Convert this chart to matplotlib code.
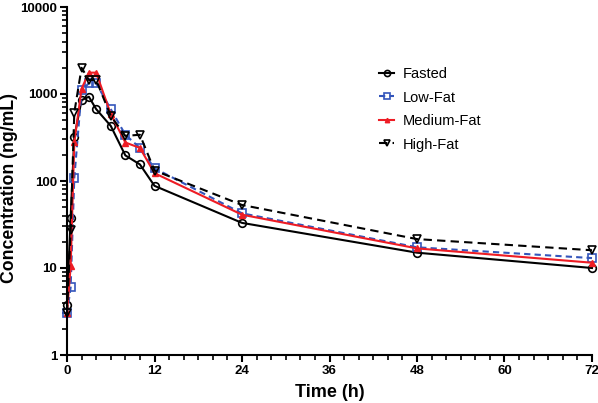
import matplotlib
matplotlib.use("Agg")
import matplotlib.pyplot as plt
from matplotlib.ticker import FixedLocator, LogLocator, NullFormatter

plt.rcParams['font.family'] = ['Liberation Sans', 'DejaVu Sans']

time_h = [0, 0.5, 1, 2, 3, 4, 6, 8, 10, 12, 24, 48, 72]
fasted = [3.8, 38, 320, 850, 930, 670, 430, 197, 155, 88, 33, 15, 10]
low_fat = [3, 6, 108, 1100, 1330, 1330, 670, 340, 240, 140, 42.5, 17.3, 13]
medium_fat = [3, 10.5, 280, 1150, 1760, 1760, 590, 277, 240, 123, 41, 16.8, 11.5]
high_fat = [3, 27, 610, 2000, 1450, 1450, 560, 330, 340, 132, 53, 21.5, 16]

x_ticks = [0, 12, 24, 36, 48, 60, 72]
y_ticks = [1, 10, 100, 1000, 10000]
y_ticklabels = ["1", "10", "100", "1000", "10000"]

fig = plt.figure(figsize=(5.98, 4.03), dpi=100)
ax = fig.add_axes([67/598, 1-355/403, (592-67)/598, (355-7)/403])

ax.plot(time_h, fasted, color='black', lw=1.5, ls='-', marker='o', ms=5.5,
        mfc='none', mec='black', mew=1.2, label='Fasted', clip_on=False)
ax.plot(time_h, low_fat, color='#3355bb', lw=1.5, ls=(0, (3, 2)), marker='s', ms=5.5,
        mfc='none', mec='#3355bb', mew=1.2, label='Low-Fat', clip_on=False)
ax.plot(time_h, medium_fat, color='#ee1c24', lw=1.5, ls='-', marker='^', ms=4,
        mfc='#ee1c24', mec='#ee1c24', mew=1.0, label='Medium-Fat', clip_on=False)
ax.plot(time_h, high_fat, color='black', lw=1.5, ls=(0, (4, 2.5)), marker='v', ms=6,
        mfc='none', mec='black', mew=1.2, label='High-Fat', clip_on=False)

ax.set_yscale('log')
ax.set_xlim(0, 72)
ax.set_ylim(1, 10000)
ax.xaxis.set_major_locator(FixedLocator(x_ticks))
ax.xaxis.set_minor_locator(FixedLocator(list(range(0, 73, 2))))
ax.yaxis.set_major_locator(FixedLocator(y_ticks))
ax.set_yticklabels(y_ticklabels)
ax.yaxis.set_minor_locator(LogLocator(base=10, subs=range(2, 10)))
ax.yaxis.set_minor_formatter(NullFormatter())

for s in ['top', 'right']:
    ax.spines[s].set_visible(False)
for s in ['left', 'bottom']:
    ax.spines[s].set_linewidth(1.5)

ax.tick_params(axis='both', which='major', length=5, width=1.5, labelsize=9.5,
               direction='out', pad=2)
ax.tick_params(axis='both', which='minor', length=3.5, width=1.2, direction='out')
for lab in ax.get_xticklabels() + ax.get_yticklabels():
    lab.set_fontweight('bold')

ax.set_xlabel('Time (h)', fontsize=13, fontweight='bold', labelpad=5)
ax.set_ylabel('Concentration (ng/mL)', fontsize=12.7, fontweight='bold')
ax.yaxis.set_label_coords(-0.093, 0.48)

leg = ax.legend(loc='upper left', bbox_to_anchor=(0.57, 0.865), frameon=False,
                fontsize=10.5, handlelength=1.0, handletextpad=0.6, labelspacing=0.65,
                markerscale=0.8)

fig.savefig('out.png', dpi=100)
